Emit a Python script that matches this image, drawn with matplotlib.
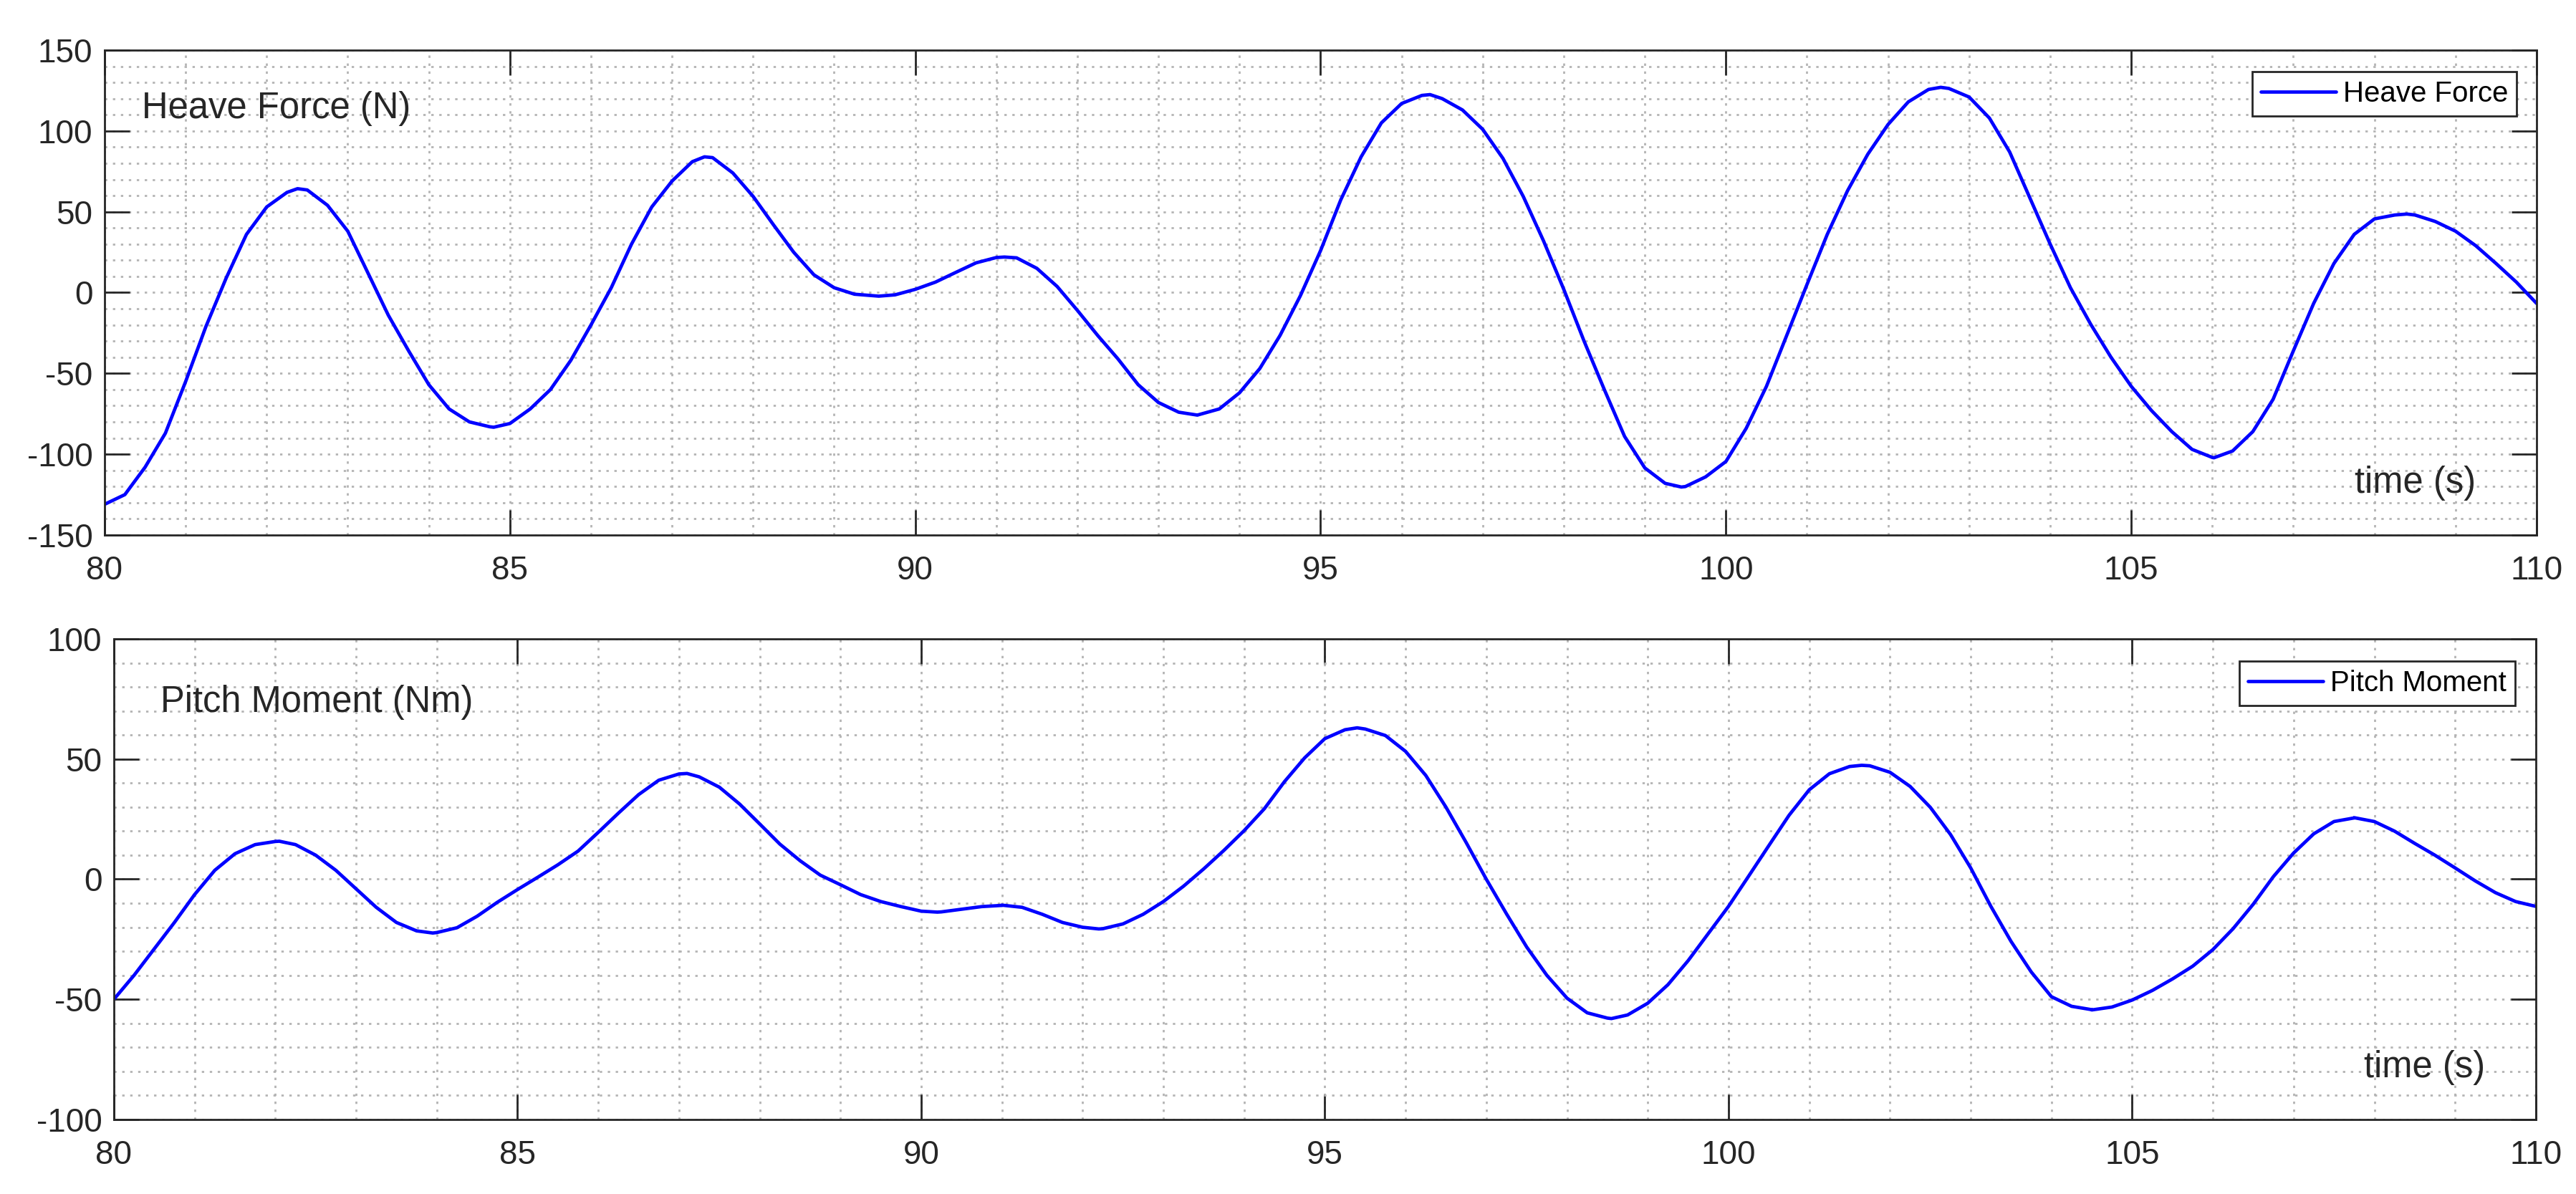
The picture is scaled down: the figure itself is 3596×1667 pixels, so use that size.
import numpy as np
import matplotlib
matplotlib.use('Agg')
import matplotlib.pyplot as plt
from matplotlib.ticker import MultipleLocator

plt.rcParams['font.family'] = ['Liberation Sans', 'DejaVu Sans']
plt.rcParams['axes.unicode_minus'] = False

# sampling grid (s), 0.25 s steps
time_s = np.arange(80, 110.01, 0.25)

# heave force (N)
heave_force = [
    -131, -125, -108, -87, -55, -21, 9, 36, 53, 62, 63.5, 54, 38, 12, -14, -36,
    -57, -72, -80, -83, -81, -72, -60, -42, -20, 3, 30, 53, 69, 81, 83.5, 74,
    59.5, 42, 25, 11, 3, -1, -2, -1.4, 2,
    6.5, 12.5, 18.4, 21.7, 21.5, 15, 3.8, -11, -26.5, -41, -57, -68, -74, -75.5,
    -72, -62, -47, -26.5, -2, 26, 57.5, 84, 105, 117, 122, 120, 113, 101, 83,
    59.5, 32, 2, -30, -60, -89, -108.5, -118, -120, -114, -104.5,
    -84, -58, -26.5, 5, 36, 63, 85.6, 104, 118, 125.7, 126.3, 121, 108, 87,
    58.5, 30, 3, -19.6, -40, -58, -73, -86, -97, -102, -98, -86, -66, -36,
    -6.7, 18, 36, 45.6, 48, 48, 44, 38, 29, 18, 6.5, -6.7,
]
# extra readings at the turning points
heave_peak_t = [82.38, 84.8, 87.4, 89.55, 91.1, 93.48, 96.35, 99.45, 102.65, 106.02, 108.4]
heave_peak_v = [64.3, -83.3, 84, -2.2, 22, -75.8, 122.5, -120.3, 127, -102.2, 48.6]

# pitch moment (Nm)
pitch_moment = [
    -50, -40, -29, -18, -6.4, 3.7, 10.6, 14.4, 15.7, 14.4, 10, 3.7, -4, -11.7,
    -18, -21.5, -22.2, -20.2, -15.4, -9.6, -4.3, 0.8, 6, 11.7, 19.5, 27.5,
    35.2, 41.2, 43.8, 42.6, 38.3, 31.3, 23, 14.6, 7.7, 1.7, -2.3, -6.4, -9.3,
    -11.4,
    -13.3, -13.6, -12.5, -11.4, -10.9, -11.7, -14.6, -18, -20, -20.6, -18.6,
    -14.6, -9.3, -2.9, 4.3, 12, 20.2, 29.3, 40.6, 50.5, 58.5, 62.2, 62.5, 59.8,
    53.2, 43.2, 30, 15.3, 0, -14.4, -28.2, -40, -49.5, -55.6, -57.8, -56.5,
    -51.6, -43.9, -33.9, -22.6,
    -11.3, 1.3, 14, 26.6, 37.2, 43.9, 46.9, 47.2, 44.5, 38.6, 29.9, 18.6, 4.7,
    -11.3, -25.9, -38.6, -48.9, -52.9, -54.3, -53.2, -50.3, -46.3, -41.5,
    -36.2, -29.3, -20.6, -10.4, 1.1, 10.9, 18.9, 24, 25.5, 24, 20, 14.9, 10,
    4.7, -0.7, -5.6, -9.3, -11.3,
]
pitch_peak_t = [82.05, 83.95, 87.1, 90.2, 91.0, 92.2, 95.4, 98.55, 101.65, 104.5, 107.75]
pitch_peak_v = [15.8, -22.4, 44, -13.7, -10.8, -20.7, 63, -58, 47.4, -54.4, 25.6]

DARK = '#262626'


def merge(t, v, pt, pv):
    tt = np.concatenate([t, pt])
    vv = np.concatenate([np.asarray(v, float), pv])
    order = np.argsort(tt, kind='stable')
    return tt[order], vv[order]


def style_axis(ax, ylim):
    ax.set_xlim(80, 110)
    ax.set_ylim(*ylim)
    ax.xaxis.set_major_locator(MultipleLocator(5))
    ax.xaxis.set_minor_locator(MultipleLocator(1))
    ax.yaxis.set_major_locator(MultipleLocator(50))
    ax.yaxis.set_minor_locator(MultipleLocator(10))
    ax.grid(True, which='both', color='#b4b4b4', linestyle=(0, (1.2, 2.8)),
            linewidth=2.0)
    ax.tick_params(which='major', direction='in', length=25, width=2.0,
                   top=True, right=True, labelsize=33, colors=DARK)
    ax.tick_params(which='minor', length=0)
    ax.tick_params(axis='x', pad=20)
    ax.tick_params(axis='y', pad=12)
    for s in ax.spines.values():
        s.set_linewidth(2.0)
        s.set_color(DARK)


fig = plt.figure(figsize=(35.96, 16.67), dpi=100)
ax1 = fig.add_axes([0.0406, 0.5519, 0.9441, 0.4061])
ax2 = fig.add_axes([0.0442, 0.0624, 0.9402, 0.4025])

# heave force
t1, v1 = merge(time_s, heave_force, heave_peak_t, heave_peak_v)
ax1.plot(t1, v1, color='#0000ff', lw=3.4, label='Heave Force',
         solid_joinstyle='round', solid_capstyle='round')
style_axis(ax1, (-150, 150))
ax1.text(0.0153, 0.8597, 'Heave Force (N)', transform=ax1.transAxes,
         fontsize=36.5, color=DARK, va='baseline')
ax1.text(0.9252, 0.0871, 'time (s)', transform=ax1.transAxes,
         fontsize=36.5, color=DARK, va='baseline')
leg1 = ax1.legend(loc='upper right', bbox_to_anchor=(0.9918, 0.9557),
                  borderaxespad=0, fancybox=False, edgecolor=DARK,
                  framealpha=1, handlelength=2.6, handletextpad=0.25,
                  borderpad=0.3, fontsize=29)
leg1.get_frame().set_linewidth(2.0)

# pitch moment
t2, v2 = merge(time_s, pitch_moment, pitch_peak_t, pitch_peak_v)
ax2.plot(t2, v2, color='#0000ff', lw=3.4, label='Pitch Moment',
         solid_joinstyle='round', solid_capstyle='round')
style_axis(ax2, (-100, 100))
ax2.text(0.0192, 0.848, 'Pitch Moment (Nm)', transform=ax2.transAxes,
         fontsize=36.5, color=DARK, va='baseline')
ax2.text(0.929, 0.0879, 'time (s)', transform=ax2.transAxes,
         fontsize=36.5, color=DARK, va='baseline')
leg2 = ax2.legend(loc='upper right', bbox_to_anchor=(0.9914, 0.9538),
                  borderaxespad=0, fancybox=False, edgecolor=DARK,
                  framealpha=1, handlelength=2.6, handletextpad=0.25,
                  borderpad=0.3, fontsize=29)
leg2.get_frame().set_linewidth(2.0)

fig.savefig('out.png', dpi=100)
